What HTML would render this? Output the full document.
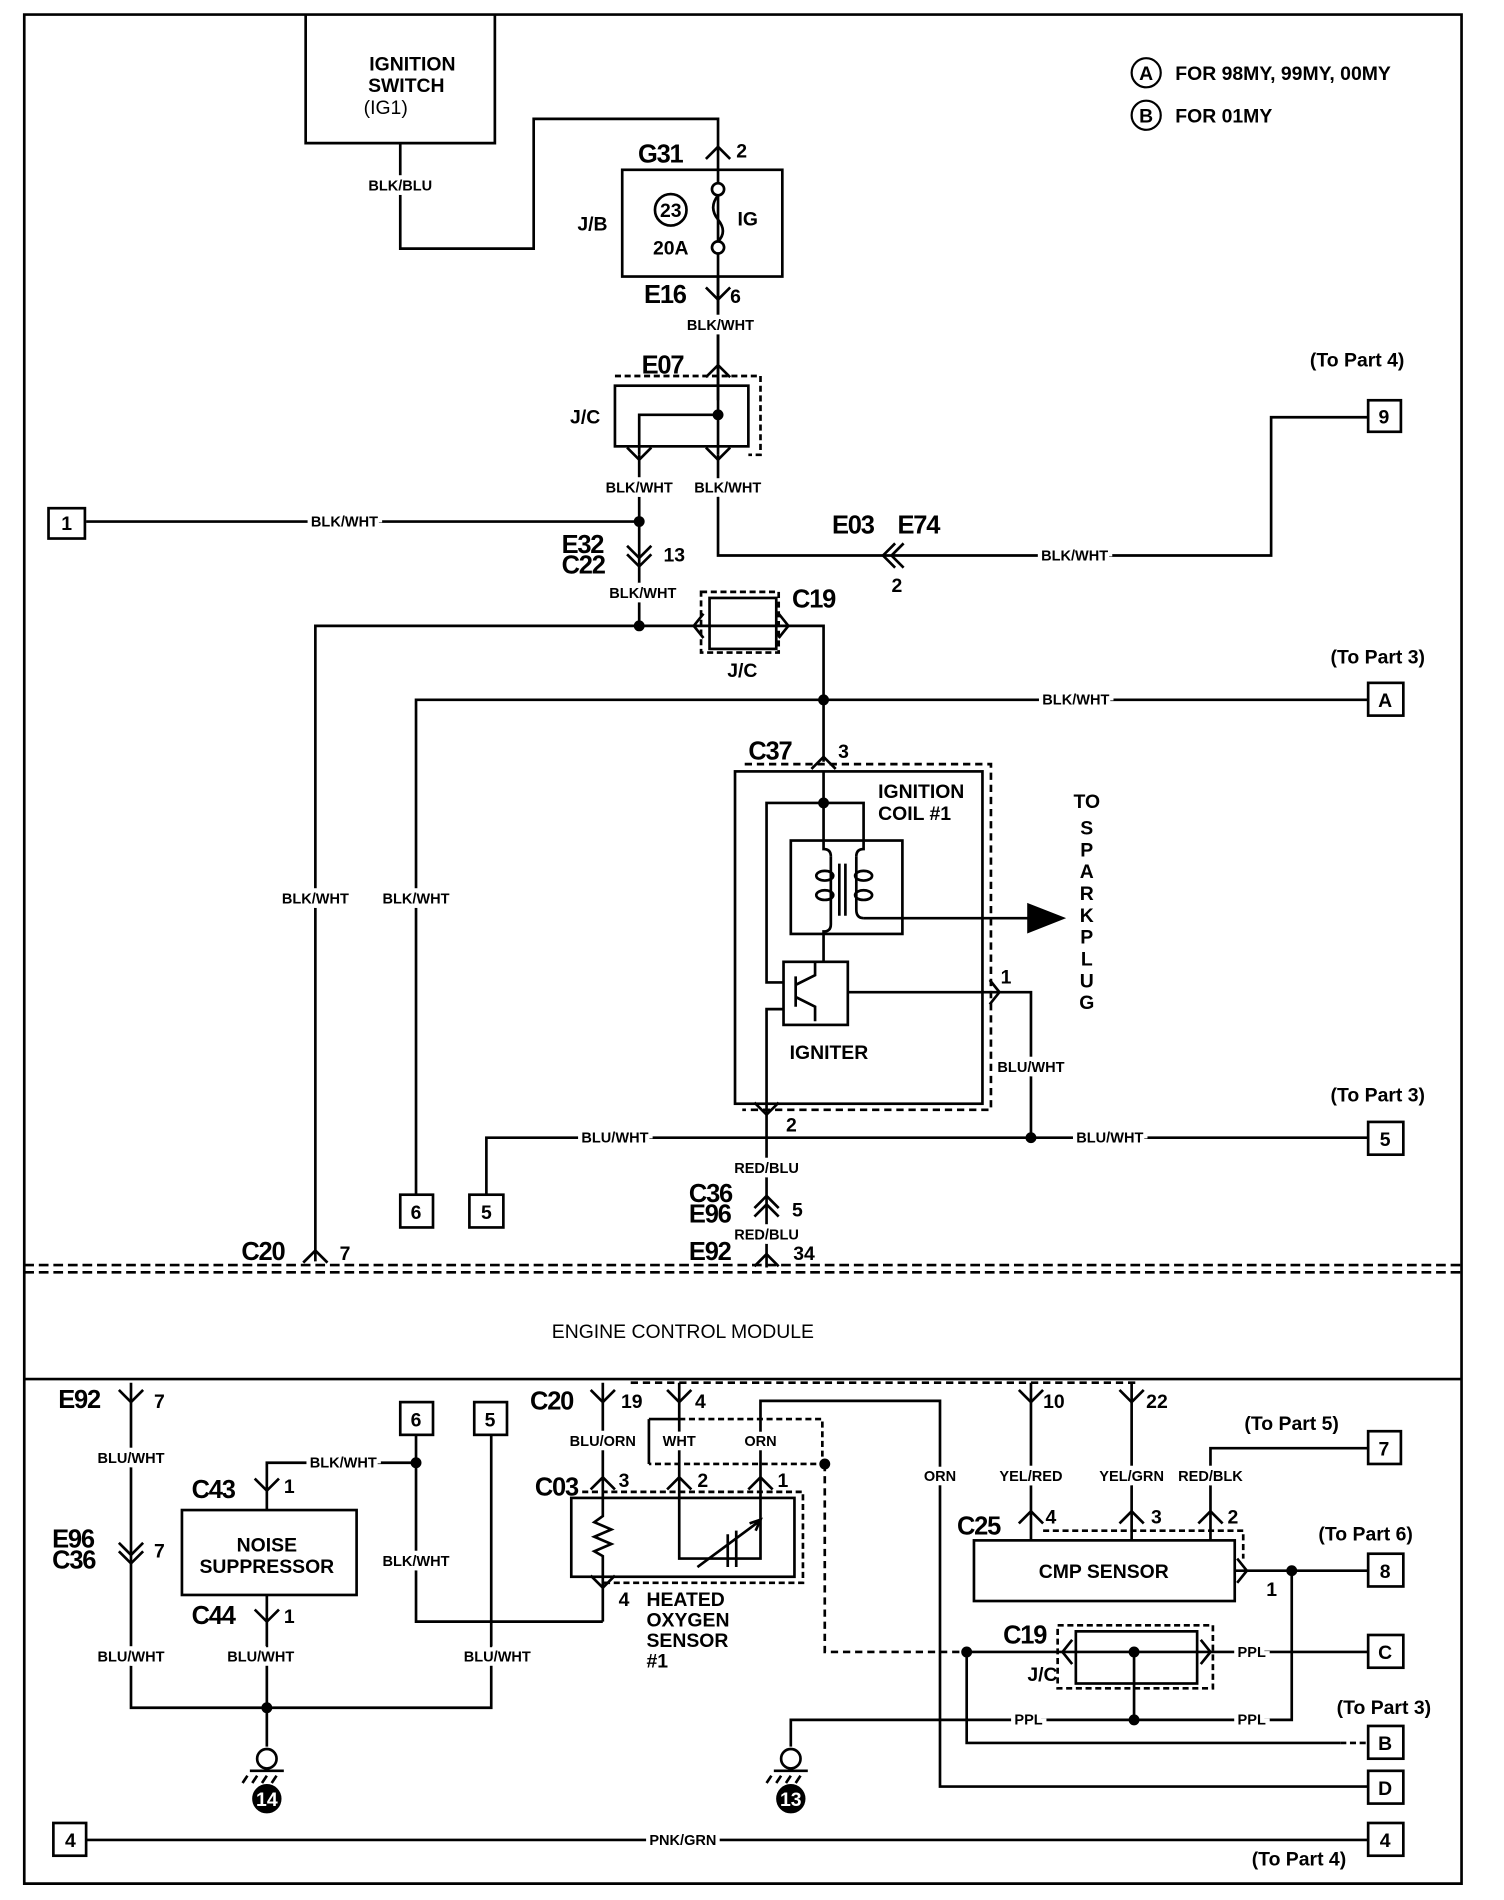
<!DOCTYPE html>
<html><head><meta charset="utf-8"><style>
html,body{margin:0;padding:0;background:#fff}
svg{display:block}
text{font-family:"Liberation Sans",sans-serif;font-weight:bold;fill:#000}
.s{font-size:12px;paint-order:stroke;stroke:#fff;stroke-width:7px;text-anchor:middle}
.m{font-size:16px}
.b{font-size:21px;font-weight:bold;letter-spacing:-1px}
.c{text-anchor:middle}
</style></head><body>
<svg width="1504" height="1900" viewBox="0 0 1240 1566.5" xmlns="http://www.w3.org/2000/svg">
<g fill="none" stroke="#000" stroke-width="2.2">
<path d="M20 12 H1205 V1553 H20 Z"/>
<path d="M20 1043 H1205 M20 1049 H1205" stroke-dasharray="8 4"/>
<path d="M20 1137 H1205"/>
<path d="M252 12 V118 H408 V12"/>
<path d="M330 118 V205 H440 V98 H592 V330"/>
<rect x="513" y="140" width="132" height="88"/>
<circle cx="553" cy="173" r="13"/>
<circle cx="592" cy="156" r="5" fill="#fff"/>
<circle cx="592" cy="204" r="5" fill="#fff"/>
<path d="M592 161 q-8 10 0 20 q8 10 0 18"/>
<path d="M592 228 V375"/>
<rect x="507" y="318" width="110" height="50"/>
<path d="M507 310 H627 V375 H617 M617 310" stroke-dasharray="5 3"/>
<path d="M527 375 V342 H592"/>
<path d="M527 375 V516 M592 375 V458 H1048 V344 H1128"/>
<path d="M71 430 H527"/>
<rect x="1128" y="330" width="27" height="26"/>
<rect x="40" y="419" width="30" height="25"/>
<path d="M260 1040 V516 H679 V628"/>
<rect x="578" y="488" width="64" height="50" stroke-dasharray="5 3"/>
<rect x="585" y="493" width="55" height="42"/>
<path d="M343 985 V577 H1128"/>
<rect x="1128" y="563" width="29" height="27"/>
<rect x="330" y="985" width="27" height="27"/>
<rect x="387" y="985" width="28" height="27"/>
<rect x="606" y="636" width="204" height="274"/>
<path d="M614 630 H817 V915 H612" stroke-dasharray="6 4"/>
<path d="M679 636 V693 M646 810 H632 V662 H712 V693"/>
<rect x="652" y="693" width="92" height="77"/>
<path d="M679 693 V700 q6 0 6 6 M712 693 V700 q-6 0 -6 6"/>
<path d="M685 706 V762 q0 6 -6 6 V770 M706 706 V750 q0 7 6 7"/>
<ellipse cx="680" cy="722" rx="7" ry="4"/><ellipse cx="680" cy="738" rx="7" ry="4"/>
<ellipse cx="712" cy="722" rx="7" ry="4"/><ellipse cx="712" cy="738" rx="7" ry="4"/>
<path d="M692 712 V755 M697 712 V755"/>
<path d="M712 757 H848"/>
<path d="M848 746 L876 757 L848 768 Z" fill="#000"/>
<rect x="646" y="793" width="53" height="52"/>
<path d="M646 832 H632 V915 M656 805 V830 M656 812 L672 804 V793 M656 822 L672 830 V842"/>
<path d="M679 770 V793"/>
<path d="M699 818 H850 V938"/>
<path d="M401 985 V938 H1128"/>
<rect x="1128" y="925" width="29" height="27"/>
<path d="M632 915 V1045"/>
<path d="M108 1140 V1408 H405 V1183"/>
<rect x="150" y="1245" width="144" height="70"/>
<path d="M220 1245 V1206 H343 M220 1315 V1440 M343 1183 V1337 H497"/>
<rect x="330" y="1156" width="27" height="27"/>
<rect x="391" y="1156" width="27" height="27"/>
<circle cx="220" cy="1450" r="8"/>
<path d="M206 1460 H234 M204 1464 l-4 6 M212 1464 l-4 6 M220 1464 l-4 6 M228 1464 l-4 6"/>
<circle cx="220" cy="1483" r="11" fill="#000"/>
<path d="M497 1140 V1235 M497 1300 V1337"/>
<rect x="471" y="1235" width="184" height="65"/>
<path d="M480 1230 H662 V1305 H497" stroke-dasharray="5 3"/>
<path d="M497 1235 V1250 l-7 5 l14 6 l-14 6 l14 6 l-14 6 l7 4 V1300"/>
<path d="M560 1140 V1285 H627 V1155 H775 V1473 H1128"/>
<path d="M575 1292 L625 1255 M618 1256 l9 -3 l-4 9 M600 1265 V1292 M607 1262 V1292"/>
<path d="M560 1170 H678 V1207 H535" stroke-dasharray="5 3"/>
<path d="M535 1170 V1207 M535 1170 H560"/>
<path d="M680 1207 V1362 H797" stroke-dasharray="6 4"/>
<path d="M520 1140 H940" stroke-dasharray="6 4"/>
<path d="M850 1140 V1270 M933 1140 V1270 M998 1270 V1194 H1128"/>
<rect x="1128" y="1180" width="27" height="27"/>
<rect x="803" y="1270" width="215" height="50"/>
<path d="M860 1262 H1025 V1285" stroke-dasharray="5 3"/>
<path d="M1018 1295 H1128 M1065 1295 V1418 H935"/>
<rect x="1128" y="1281" width="29" height="27"/>
<rect x="872" y="1340" width="128" height="52" stroke-dasharray="5 3"/>
<rect x="887" y="1345" width="100" height="43"/>
<path d="M797 1362 H1128 M935 1362 V1418 H652 V1440"/>
<path d="M797 1362 V1437 H1105"/>
<path d="M1105 1437 H1128" stroke-dasharray="5 3"/>
<rect x="1128" y="1348" width="29" height="27"/>
<rect x="1128" y="1423" width="29" height="27"/>
<rect x="1128" y="1460" width="29" height="27"/>
<circle cx="652" cy="1450" r="8"/>
<path d="M638 1460 H666 M636 1464 l-4 6 M644 1464 l-4 6 M652 1464 l-4 6 M660 1464 l-4 6"/>
<circle cx="652" cy="1483" r="11" fill="#000"/>
<path d="M71 1517 H1128"/>
<rect x="44" y="1503" width="27" height="27"/>
<rect x="1128" y="1503" width="29" height="27"/>
<path d="M582 131 l10 -10 l10 10 M582 311 l10 -10 l10 10 M669 634 l10 -10 l10 10 M622 996 l10 -10 l10 10 M622 1003 l10 -10 l10 10 M622 1044 l10 -10 l10 10 M250 1041 l10 -10 l10 10 M487 1228 l10 -10 l10 10 M550 1228 l10 -10 l10 10 M617 1228 l10 -10 l10 10 M840 1256 l10 -10 l10 10 M923 1256 l10 -10 l10 10 M988 1256 l10 -10 l10 10"/>
<path d="M582 237 l10 10 l10 -10 M517 369 l10 10 l10 -10 M582 369 l10 10 l10 -10 M517 450 l10 10 l10 -10 M517 457 l10 10 l10 -10 M622 909 l10 10 l10 -10 M98 1146 l10 10 l10 -10 M487 1146 l10 10 l10 -10 M550 1146 l10 10 l10 -10 M840 1146 l10 10 l10 -10 M923 1146 l10 10 l10 -10 M98 1272 l10 10 l10 -10 M98 1279 l10 10 l10 -10 M210 1219 l10 10 l10 -10 M210 1327 l10 10 l10 -10 M487 1299 l10 10 l10 -10"/>
<path d="M738 448 l-10 10 l10 10 M745 448 l-10 10 l10 10 M580 506 l-8 10 l8 10 M642 506 l8 10 l-8 10 M816 808 l8 10 l-8 10 M1020 1285 l8 10 l-8 10 M884 1352 l-8 10 l8 10 M990 1352 l8 10 l-8 10"/>
</g>
<g fill="#000">
<circle cx="592" cy="342" r="4.5"/><circle cx="527" cy="430" r="4.5"/><circle cx="527" cy="516" r="4.5"/>
<circle cx="679" cy="577" r="4.5"/><circle cx="679" cy="662" r="4.5"/><circle cx="850" cy="938" r="4.5"/>
<circle cx="343" cy="1206" r="4.5"/><circle cx="220" cy="1408" r="4.5"/><circle cx="680" cy="1207" r="4.5"/>
<circle cx="797" cy="1362" r="4.5"/><circle cx="935" cy="1362" r="4.5"/><circle cx="935" cy="1418" r="4.5"/><circle cx="1065" cy="1295" r="4.5"/>
</g>
<circle cx="945" cy="60" r="12" fill="none" stroke="#000" stroke-width="1.8"/>
<circle cx="945" cy="95" r="12" fill="none" stroke="#000" stroke-width="1.8"/>
<text class="m c" x="945" y="66">A</text><text class="m c" x="945" y="101">B</text>
<text class="m" x="969" y="66">FOR 98MY, 99MY, 00MY</text>
<text class="m" x="969" y="101">FOR 01MY</text>
<text class="m c" x="340" y="58">IGNITION</text><text class="m c" x="335" y="76">SWITCH</text><text class="m c" x="318" y="94" style="font-weight:normal">(IG1)</text>
<text class="s" x="330" y="157">BLK/BLU</text>
<text class="b" x="526" y="134">G31</text><text class="m" x="607" y="130">2</text>
<text class="m" x="476" y="190">J/B</text><text class="m c" x="553" y="179">23</text><text class="m c" x="553" y="210">20A</text><text class="m" x="608" y="186">IG</text>
<text class="b" x="531" y="250">E16</text><text class="m" x="602" y="250">6</text>
<text class="s" x="594" y="272">BLK/WHT</text>
<text class="b" x="529" y="308">E07</text><text class="m" x="470" y="349">J/C</text>
<text class="s" x="527" y="406">BLK/WHT</text><text class="s" x="600" y="406">BLK/WHT</text>
<text class="m" x="1080" y="302">(To Part 4)</text><text class="m c" x="1141" y="349">9</text>
<text class="m c" x="55" y="437">1</text>
<text class="s" x="284" y="434">BLK/WHT</text>
<text class="b" x="463" y="456">E32</text><text class="b" x="463" y="473">C22</text><text class="m" x="547" y="463">13</text>
<text class="s" x="530" y="493">BLK/WHT</text>
<text class="b" x="686" y="440">E03</text><text class="b" x="740" y="440">E74</text><text class="m" x="735" y="488">2</text>
<text class="s" x="886" y="462">BLK/WHT</text>
<text class="b" x="653" y="501">C19</text><text class="m c" x="612" y="558">J/C</text>
<text class="m" x="1097" y="547">(To Part 3)</text><text class="m c" x="1142" y="583">A</text>
<text class="s" x="887" y="581">BLK/WHT</text>
<text class="s" x="260" y="745">BLK/WHT</text><text class="s" x="343" y="745">BLK/WHT</text>
<text class="b" x="617" y="626">C37</text><text class="m" x="691" y="625">3</text>
<text class="m" x="724" y="658">IGNITION</text><text class="m" x="724" y="676">COIL #1</text>
<text class="m" x="651" y="873">IGNITER</text><text class="m" x="825" y="811">1</text>
<text class="m c" x="896" y="666">TO</text><text class="m c" x="896" y="688">S</text><text class="m c" x="896" y="706">P</text><text class="m c" x="896" y="724">A</text><text class="m c" x="896" y="742">R</text><text class="m c" x="896" y="760">K</text><text class="m c" x="896" y="778">P</text><text class="m c" x="896" y="796">L</text><text class="m c" x="896" y="814">U</text><text class="m c" x="896" y="832">G</text>
<text class="s" x="850" y="884">BLU/WHT</text>
<text class="m" x="648" y="933">2</text>
<text class="m" x="1097" y="908">(To Part 3)</text><text class="m c" x="1142" y="945">5</text>
<text class="s" x="507" y="942">BLU/WHT</text><text class="s" x="915" y="942">BLU/WHT</text>
<text class="m c" x="343" y="1005">6</text><text class="m c" x="401" y="1005">5</text>
<text class="s" x="632" y="967">RED/BLU</text>
<text class="b" x="568" y="991">C36</text><text class="b" x="568" y="1008">E96</text><text class="m" x="653" y="1003">5</text>
<text class="s" x="632" y="1022">RED/BLU</text>
<text class="b" x="568" y="1039">E92</text><text class="m" x="654" y="1039">34</text>
<text class="b" x="199" y="1039">C20</text><text class="m" x="280" y="1039">7</text>
<text class="m c" x="563" y="1103" style="font-weight:normal">ENGINE CONTROL MODULE</text>
<text class="b" x="48" y="1161">E92</text><text class="m" x="127" y="1161">7</text>
<text class="s" x="108" y="1206">BLU/WHT</text>
<text class="b" x="43" y="1276">E96</text><text class="b" x="43" y="1293">C36</text><text class="m" x="127" y="1284">7</text>
<text class="s" x="108" y="1370">BLU/WHT</text><text class="s" x="215" y="1370">BLU/WHT</text><text class="s" x="410" y="1370">BLU/WHT</text>
<text class="b" x="158" y="1235">C43</text><text class="m" x="234" y="1231">1</text>
<text class="s" x="283" y="1210">BLK/WHT</text>
<text class="m c" x="220" y="1279">NOISE</text><text class="m c" x="220" y="1297">SUPPRESSOR</text>
<text class="b" x="158" y="1339">C44</text><text class="m" x="234" y="1338">1</text>
<text class="s" x="343" y="1291">BLK/WHT</text>
<text class="m c" x="343" y="1176">6</text><text class="m c" x="404" y="1176">5</text>
<text class="m c" x="220" y="1489" style="fill:#fff">14</text><text class="m c" x="652" y="1489" style="fill:#fff">13</text>
<text class="b" x="437" y="1162">C20</text><text class="m" x="512" y="1161">19</text><text class="m" x="573" y="1161">4</text>
<text class="s" x="497" y="1192">BLU/ORN</text>
<text class="s" x="560" y="1192">WHT</text><text class="s" x="627" y="1192">ORN</text>
<text class="b" x="441" y="1233">C03</text><text class="m" x="510" y="1226">3</text><text class="m" x="575" y="1226">2</text><text class="m" x="641" y="1226">1</text>
<text class="m" x="510" y="1324">4</text>
<text class="m" x="533" y="1324">HEATED</text><text class="m" x="533" y="1341">OXYGEN</text><text class="m" x="533" y="1358">SENSOR</text><text class="m" x="533" y="1375">#1</text>
<text class="s" x="775" y="1221">ORN</text><text class="s" x="850" y="1221">YEL/RED</text><text class="s" x="933" y="1221">YEL/GRN</text><text class="s" x="998" y="1221">RED/BLK</text>
<text class="m" x="860" y="1161">10</text><text class="m" x="945" y="1161">22</text>
<text class="m" x="1026" y="1179">(To Part 5)</text><text class="m c" x="1141" y="1200">7</text>
<text class="b" x="789" y="1265">C25</text><text class="m" x="862" y="1256">4</text><text class="m" x="949" y="1256">3</text><text class="m" x="1012" y="1256">2</text>
<text class="m c" x="910" y="1301">CMP SENSOR</text><text class="m" x="1044" y="1316">1</text>
<text class="m" x="1087" y="1270">(To Part 6)</text><text class="m c" x="1142" y="1301">8</text>
<text class="b" x="827" y="1355">C19</text><text class="m" x="847" y="1386">J/C</text>
<text class="s" x="1032" y="1366">PPL</text><text class="s" x="1032" y="1422">PPL</text><text class="s" x="848" y="1422">PPL</text>
<text class="m c" x="1142" y="1368">C</text>
<text class="m" x="1102" y="1413">(To Part 3)</text><text class="m c" x="1142" y="1443">B</text><text class="m c" x="1142" y="1480">D</text>
<text class="m c" x="58" y="1523">4</text><text class="m c" x="1142" y="1523">4</text>
<text class="s" x="563" y="1521">PNK/GRN</text>
<text class="m" x="1032" y="1538">(To Part 4)</text>
</svg>
</body></html>
